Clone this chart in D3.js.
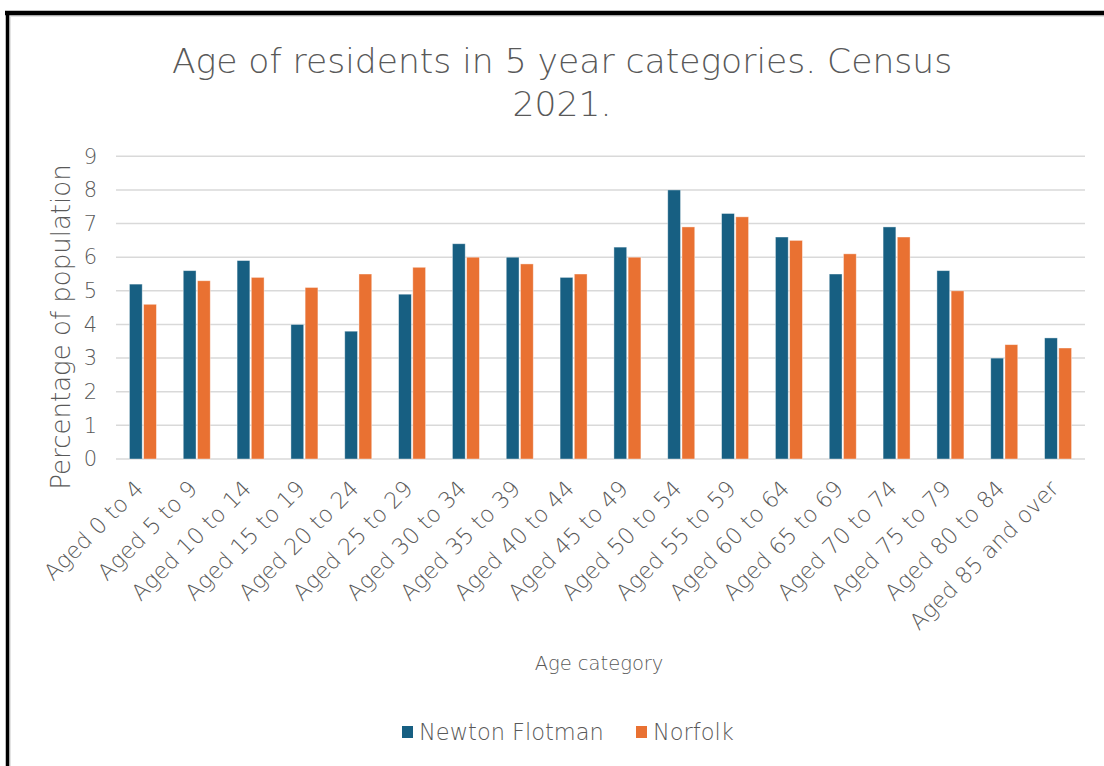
<!DOCTYPE html>
<html>
<head>
<meta charset="utf-8">
<script src="https://cdn.jsdelivr.net/npm/d3@7"></script>
<style>
  html, body { margin: 0; padding: 0; background: #fff; }
  svg text { font-family: "DejaVu Sans", sans-serif; fill: #595959; font-weight: 300; }
</style>
</head>
<body>
<svg id="chart" width="1104" height="766"></svg>
<script>
const categories = ["Aged 0 to 4","Aged 5 to 9","Aged 10 to 14","Aged 15 to 19","Aged 20 to 24","Aged 25 to 29","Aged 30 to 34","Aged 35 to 39","Aged 40 to 44","Aged 45 to 49","Aged 50 to 54","Aged 55 to 59","Aged 60 to 64","Aged 65 to 69","Aged 70 to 74","Aged 75 to 79","Aged 80 to 84","Aged 85 and over"];
const newtonFlotman = [5.2,5.6,5.9,4.0,3.8,4.9,6.4,6.0,5.4,6.3,8.0,7.3,6.6,5.5,6.9,5.6,3.0,3.6];
const norfolk = [4.6,5.3,5.4,5.1,5.5,5.7,6.0,5.8,5.5,6.0,6.9,7.2,6.5,6.1,6.6,5.0,3.4,3.3];
const seriesNames = ["Newton Flotman","Norfolk"];
const seriesColors = ["#175f82","#e97132"];
const yTicks = [0,1,2,3,4,5,6,7,8,9];
const titleLines = ["Age of residents in 5 year categories. Census","2021."];
const xTitle = "Age category";
const yTitle = "Percentage of population";

(function(){
const FONT = "'DejaVu Sans', sans-serif";
const svg = d3.select("#chart");
const W = 1104, H = 766;
const mLeft = 116, mRight = 1085, mTop = 156.3, mBottom = 459;

// frame
svg.append("rect").attr("x",0).attr("y",0).attr("width",W).attr("height",H).attr("fill","#fff");
svg.append("line").attr("x1",9).attr("x2",W).attr("y1",16).attr("y2",16).attr("stroke","#e3e3e3").attr("stroke-width",2);
svg.append("line").attr("x1",10).attr("x2",10).attr("y1",16).attr("y2",H).attr("stroke","#e3e3e3").attr("stroke-width",2);
svg.append("line").attr("x1",5).attr("x2",W).attr("y1",13).attr("y2",13).attr("stroke","#000").attr("stroke-width",4.5);
svg.append("line").attr("x1",7.5).attr("x2",7.5).attr("y1",11).attr("y2",H).attr("stroke","#000").attr("stroke-width",3.5);

const x = d3.scaleBand().domain(categories).range([mLeft,mRight]);
const y = d3.scaleLinear().domain([0,9]).range([mBottom,mTop]);
const xs = d3.scaleBand().domain(seriesNames).range([0,27]).paddingInner(0.1);

// gridlines
svg.append("g").selectAll("line").data(yTicks).join("line")
  .attr("x1",mLeft).attr("x2",mRight)
  .attr("y1",d=>y(d)).attr("y2",d=>y(d))
  .attr("stroke","#d9d9d9").attr("stroke-width",1.5);

// y labels
const yAxis = d3.axisLeft(y).tickValues(yTicks).tickSize(0).tickPadding(0).tickFormat(d3.format("d"));
const yg = svg.append("g").attr("transform",`translate(${mLeft-19},0)`).call(yAxis);
yg.select(".domain").remove();
yg.selectAll("text").attr("font-size",21).attr("fill","#595959").attr("font-family",FONT);

// bars
const series = [newtonFlotman, norfolk];
series.forEach((vals,si)=>{
  svg.append("g").selectAll("rect").data(categories).join("rect")
    .attr("x",(d)=>x(d)+x.bandwidth()/2-13.5+xs(seriesNames[si]))
    .attr("width",xs.bandwidth())
    .attr("y",(d,i)=>y(vals[i]))
    .attr("height",(d,i)=>y(0)-y(vals[i]))
    .attr("fill",seriesColors[si])
    .attr("stroke","#ffffff").attr("stroke-opacity",0.5).attr("stroke-width",0.8);
});

// x labels
const xAxis = d3.axisBottom(x).tickSize(0).tickPadding(0);
const xg = svg.append("g").attr("transform",`translate(0,${mBottom})`).call(xAxis);
xg.select(".domain").remove();
xg.selectAll("text")
  .attr("font-size",22.5).attr("fill","#595959").attr("font-family",FONT)
  .attr("text-anchor","end").attr("dy",null).attr("y",0)
  .attr("transform","translate(2,31) rotate(-45)");

// titles
svg.append("g").selectAll("text").data(titleLines).join("text")
  .attr("x",562).attr("y",(d,i)=>73+i*43)
  .attr("text-anchor","middle").attr("font-size",34.5).text(d=>d);

svg.append("text").attr("x",599).attr("y",670).attr("text-anchor","middle").attr("font-size",19.5).text(xTitle);

svg.append("text").attr("transform","translate(70,327) rotate(-90)").attr("text-anchor","middle").attr("font-size",26).text(yTitle);

// legend
const legendX = [402, 636];
const lg = svg.append("g");
seriesNames.forEach((n,i)=>{
  lg.append("rect").attr("x",legendX[i]).attr("y",726).attr("width",11).attr("height",12).attr("fill",seriesColors[i]);
  lg.append("text").attr("x",legendX[i]+17).attr("y",740).attr("font-size",22.5).text(n);
});
})();
</script>
</body>
</html>
